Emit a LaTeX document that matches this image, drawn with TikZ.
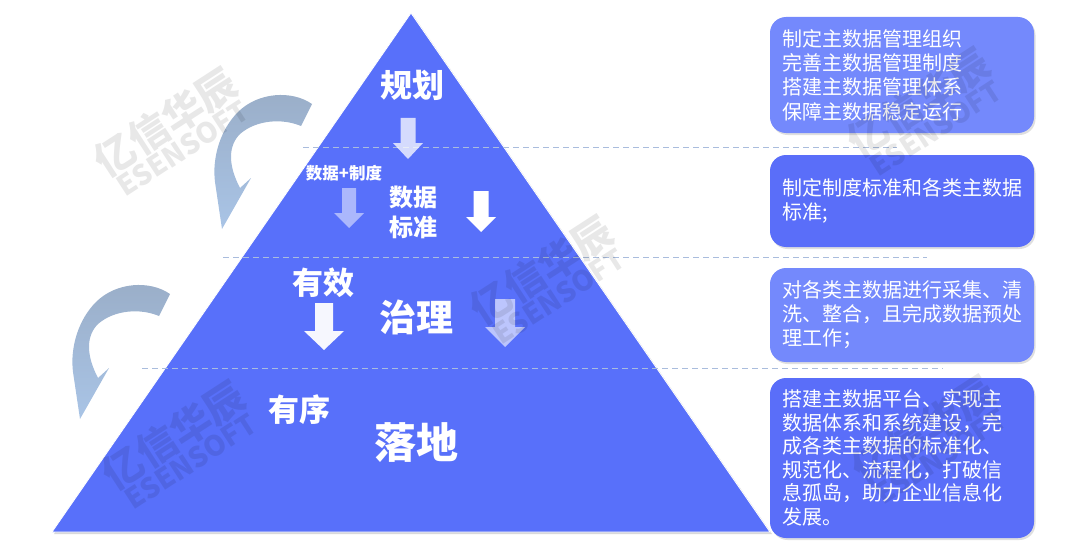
\documentclass[tikz,border=0pt]{standalone}
\usepackage{fontspec}
\setmainfont{Noto Sans CJK SC}
\usepackage{tikz}
\usetikzlibrary{shadows,positioning}
\usepackage{xcolor}
\definecolor{pyramid}{HTML}{5870FA}
\definecolor{boxlight}{HTML}{7489FC}
\definecolor{boxdark}{HTML}{5A6EF9}
\definecolor{dashblue}{HTML}{A9BCDD}
\definecolor{swooshtop}{HTML}{9AAEC8}
\definecolor{swooshbot}{HTML}{A9C4E6}

% block arrow pointing down: x, top, head start, tip, shaft half, head half, style
\newcommand{\dnarrow}[7]{%
  \fill[#7] ({#1-#5},#2) -- ({#1+#5},#2) -- ({#1+#5},#3) -- ({#1+#6},#3)
    -- (#1,#4) -- ({#1-#6},#3) -- ({#1-#5},#3) -- cycle;}
% faint company mark
\newcommand{\esenmark}[2]{%
  \node[wmark] (#1) at (#2) {{\fontsize{40}{42}\selectfont 亿信华辰}\\{\fontsize{28}{30}\selectfont ESENSOFT}};}

\tikzset{
  infobox/.style={rounded corners=16pt, text width=240pt, inner xsep=12pt, align=left,
    text=white, font=\fontsize{20}{23.5}\selectfont,
    drop shadow={shadow xshift=1.5pt, shadow yshift=-2pt, opacity=0.25}},
  level/.style={text=white, font=\bfseries\fontsize{#1}{#1}\selectfont},
  guide/.style={draw=dashblue, line width=1pt, dash pattern=on 6pt off 4pt},
  wmark/.style={rotate=33, opacity=0.09, text=black, align=center, font=\bfseries},
}

\begin{document}
\begin{tikzpicture}[x=1pt, y=-1pt]
  \useasboundingbox (0,0) rectangle (1080,551);

  % curved arrows on the left
  \foreach \dx/\dy in {0/0, -142/190} {
    \begin{scope}[shift={(\dx,\dy)}]
      \shade[top color=swooshtop, bottom color=swooshbot]
        (312,104) .. controls (292,90) and (258,92) .. (238,112)
        .. controls (220,130) and (212,158) .. (215,182)
        -- (222,229) -- (251,178) -- (240,188)
        .. controls (228,165) and (228,146) .. (240,134)
        .. controls (256,120) and (282,118) .. (301,126) -- cycle;
    \end{scope}
  }

  % pyramid
  \fill[pyramid, draw=white, line width=0.8pt,
    drop shadow={shadow xshift=2pt, shadow yshift=-2pt, opacity=0.3}]
    (411,13) -- (52,532) -- (770,532) -- cycle;

  % level separators
  \draw[guide] (303,147) -- (897,147);
  \draw[guide] (223,257) -- (927,257);
  \draw[guide] (142,368) -- (943,368);

  % text boxes
  \node[infobox, fill=boxlight, minimum height=116pt, font=\fontsize{20}{24.3}\selectfont] (box1) at (902,75)
    {制定主数据管理组织\\完善主数据管理制度\\搭建主数据管理体系\\保障主数据稳定运行};
  \node[infobox, fill=boxdark, minimum height=92pt] (box2) at (902,201)
    {制定制度标准和各类主数据\\标准;};
  \node[infobox, fill=boxlight, minimum height=94pt, font=\fontsize{20}{24}\selectfont] (box3) at (902,315)
    {对各类主数据进行采集、清\\洗、整合，且完成数据预处\\理工作；};
  \node[infobox, fill=boxdark, minimum height=160pt] (box4) at (902,458)
    {搭建主数据平台、实现主\\数据体系和系统建设，完\\成各类主数据的标准化、\\规范化、流程化，打破信\\息孤岛，助力企业信息化\\发展。};

  % pyramid labels
  \node[level=32] (guihua) at (412,85) {规划};
  \node[level=16.5] (zhidu) at (344,173) {数据+制度};
  \node[level=24, align=center] (biaozhun) at (413,212) {数据\\[6pt]标准};
  \node[level=31] (youxiao) at (323,283) {有效};
  \node[level=37] (zhili) at (416,317) {治理};
  \node[level=31] (youxu) at (299,410) {有序};
  \node[level=42] (luodi) at (416,443) {落地};

  \dnarrow{408}{118}{143}{159}{7.5}{15}{white, opacity=0.75}
  \dnarrow{349}{188}{213}{228}{7}{15}{white, opacity=0.5}
  \dnarrow{481}{191}{217}{232}{7.5}{15}{white}
  \dnarrow{324}{303}{331}{350}{9}{20}{white, opacity=0.95}
  \dnarrow{505}{299}{327}{347}{10}{20}{white, opacity=0.6}

  % marks
  \esenmark{wmA}{172,132}
  \esenmark{wmB}{180,445}
  \esenmark{wmC}{548,280}
  \esenmark{wmD}{925,112}
  \esenmark{wmE}{930,440}
\end{tikzpicture}
\end{document}
